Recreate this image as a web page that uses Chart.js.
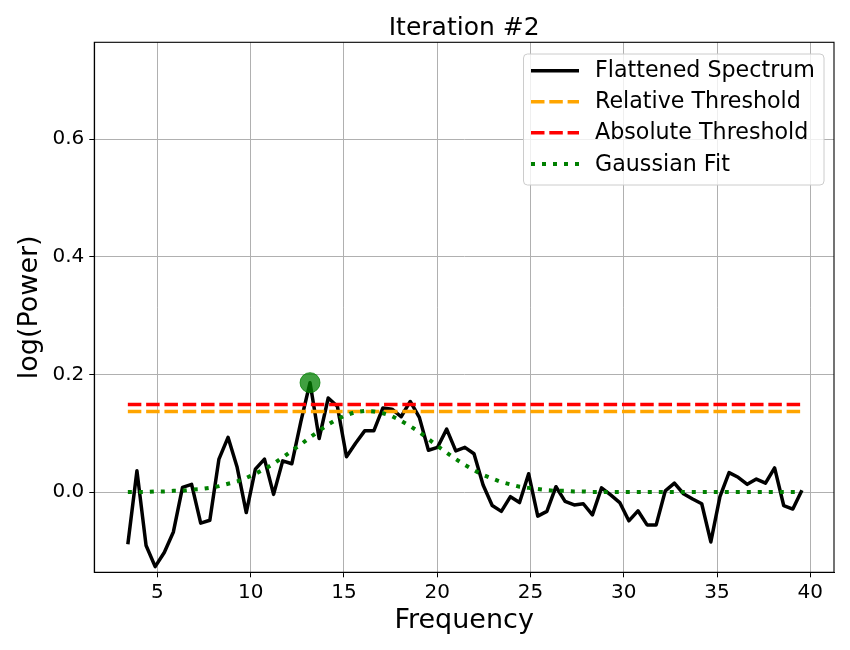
<!DOCTYPE html>
<html>
<head>
<meta charset="utf-8">
<script src="https://cdn.jsdelivr.net/npm/chart.js@4.4.1/dist/chart.umd.min.js"></script>
<style>
  html, body { margin: 0; padding: 0; background: #ffffff; }
  #wrap { width: 850px; height: 650px; }
</style>
</head>
<body>
<div id="wrap"><canvas id="c" width="850" height="650"></canvas></div>
<script>
// ---- Data ----
const freqs = [3.418, 3.906, 4.395, 4.883, 5.371, 5.859, 6.348, 6.836, 7.324, 7.813,
  8.301, 8.789, 9.277, 9.766, 10.254, 10.742, 11.230, 11.719, 12.207, 12.695,
  13.184, 13.672, 14.160, 14.648, 15.137, 15.625, 16.113, 16.602, 17.090, 17.578,
  18.066, 18.555, 19.043, 19.531, 20.020, 20.508, 20.996, 21.484, 21.973, 22.461,
  22.949, 23.438, 23.926, 24.414, 24.902, 25.391, 25.879, 26.367, 26.855, 27.344,
  27.832, 28.320, 28.809, 29.297, 29.785, 30.273, 30.762, 31.250, 31.738, 32.227,
  32.715, 33.203, 33.691, 34.180, 34.668, 35.156, 35.645, 36.133, 36.621, 37.109,
  37.598, 38.086, 38.574, 39.063, 39.551];

const flattenedSpectrum = [-0.089, 0.036, -0.091, -0.127, -0.103, -0.068, 0.008, 0.013, -0.053, -0.048,
  0.056, 0.093, 0.042, -0.035, 0.039, 0.056, -0.004, 0.053, 0.048, 0.120,
  0.186, 0.091, 0.160, 0.146, 0.060, 0.083, 0.104, 0.104, 0.143, 0.141,
  0.128, 0.154, 0.127, 0.071, 0.076, 0.107, 0.070, 0.076, 0.065, 0.012,
  -0.023, -0.033, -0.008, -0.018, 0.031, -0.041, -0.033, 0.009, -0.016, -0.022,
  -0.020, -0.039, 0.007, -0.005, -0.018, -0.049, -0.032, -0.056, -0.056, 0.002,
  0.015, -0.003, -0.012, -0.020, -0.085, -0.008, 0.033, 0.025, 0.013, 0.022,
  0.015, 0.041, -0.023, -0.029, 0.003];

const gaussianFit = [0.000, 0.000, 0.000, 0.001, 0.001, 0.002, 0.002, 0.004, 0.005, 0.007,
  0.010, 0.014, 0.018, 0.024, 0.031, 0.039, 0.048, 0.059, 0.070, 0.081,
  0.093, 0.104, 0.115, 0.124, 0.131, 0.136, 0.138, 0.137, 0.134, 0.129,
  0.121, 0.112, 0.102, 0.090, 0.078, 0.067, 0.056, 0.046, 0.037, 0.029,
  0.023, 0.017, 0.013, 0.009, 0.007, 0.005, 0.003, 0.002, 0.002, 0.001,
  0.001, 0.000, 0.000, 0.000, 0.000, 0.000, 0.000, 0.000, 0.000, 0.000,
  0.000, 0.000, 0.000, 0.000, 0.000, 0.000, 0.000, 0.000, 0.000, 0.000,
  0.000, 0.000, 0.000, 0.000, 0.000];

const relativeThreshold = [0.137, 0.137];
const absoluteThreshold = [0.149, 0.149];
const thresholdFreqs = [3.418, 39.551];

const peakFreqs = [13.184];
const peakPowers = [0.186];

const xTicks = [5, 10, 15, 20, 25, 30, 35, 40];
const yTicks = [0.0, 0.2, 0.4, 0.6];

const seriesLabels = ['Flattened Spectrum', 'Relative Threshold', 'Absolute Threshold', 'Gaussian Fit'];
const titleText = 'Iteration #2';
const xLabel = 'Frequency';
const yLabel = 'log(Power)';

// ---- Build ----
const FONT = "'DejaVu Sans', 'Liberation Sans', sans-serif";
const toPts = (xs, ys) => xs.map((x, i) => ({ x: x, y: ys[i] }));

const dashed = [13.5, 4.8];
const dotted = [4, 7];

const styles = [
  { color: '#000000', dash: [], width: 3.5 },
  { color: '#ffa500', dash: dashed, width: 3.5 },
  { color: '#ff0000', dash: dashed, width: 3.5 },
  { color: '#008000', dash: dotted, width: 4 }
];

const frameAndLegend = {
  id: 'frameAndLegend',
  afterDraw(chart) {
    const ctx = chart.ctx;
    const a = chart.chartArea;
    ctx.save();
    // title centred over the plot area
    ctx.fillStyle = '#000000';
    ctx.font = '25px ' + FONT;
    ctx.textAlign = 'center';
    ctx.textBaseline = 'alphabetic';
    ctx.fillText(titleText, (a.left + a.right) / 2, 34.5);

    // four spines
    ctx.strokeStyle = '#000000';
    ctx.lineWidth = 1.1;
    ctx.strokeRect(a.left, a.top, a.right - a.left, a.bottom - a.top);

    // legend box
    const bx = 523.5, by = 54, bw = 300.5, bh = 131, r = 4;
    ctx.beginPath();
    ctx.moveTo(bx + r, by);
    ctx.lineTo(bx + bw - r, by);
    ctx.quadraticCurveTo(bx + bw, by, bx + bw, by + r);
    ctx.lineTo(bx + bw, by + bh - r);
    ctx.quadraticCurveTo(bx + bw, by + bh, bx + bw - r, by + bh);
    ctx.lineTo(bx + r, by + bh);
    ctx.quadraticCurveTo(bx, by + bh, bx, by + bh - r);
    ctx.lineTo(bx, by + r);
    ctx.quadraticCurveTo(bx, by, bx + r, by);
    ctx.closePath();
    ctx.fillStyle = 'rgba(255,255,255,0.8)';
    ctx.fill();
    ctx.strokeStyle = '#cccccc';
    ctx.lineWidth = 1;
    ctx.stroke();

    const rows = [70.7, 101.7, 132.7, 164];
    ctx.font = '22.2px ' + FONT;
    ctx.textBaseline = 'middle';
    ctx.textAlign = 'left';
    seriesLabels.forEach((lab, i) => {
      const s = styles[i];
      ctx.beginPath();
      ctx.setLineDash(s.dash);
      ctx.lineDashOffset = 0;
      ctx.strokeStyle = s.color;
      ctx.lineWidth = s.width;
      ctx.lineCap = 'butt';
      ctx.moveTo(531, rows[i]);
      ctx.lineTo(579, rows[i]);
      ctx.stroke();
      ctx.setLineDash([]);
      ctx.fillStyle = '#000000';
      ctx.fillText(lab, 595, rows[i] + 1);
    });
    ctx.restore();
  }
};

const datasets = [
  {
    label: seriesLabels[0], data: toPts(freqs, flattenedSpectrum),
    borderColor: styles[0].color, borderWidth: styles[0].width, borderDash: styles[0].dash,
    pointRadius: 0, tension: 0, fill: false, order: 5, borderJoinStyle: 'round'
  },
  {
    label: seriesLabels[1], data: toPts(thresholdFreqs, relativeThreshold),
    borderColor: styles[1].color, borderWidth: styles[1].width, borderDash: styles[1].dash,
    pointRadius: 0, tension: 0, fill: false, order: 4, borderCapStyle: 'butt'
  },
  {
    label: seriesLabels[2], data: toPts(thresholdFreqs, absoluteThreshold),
    borderColor: styles[2].color, borderWidth: styles[2].width, borderDash: styles[2].dash,
    pointRadius: 0, tension: 0, fill: false, order: 3, borderCapStyle: 'butt'
  },
  {
    label: seriesLabels[3], data: toPts(freqs, gaussianFit),
    borderColor: styles[3].color, borderWidth: styles[3].width, borderDash: styles[3].dash,
    pointRadius: 0, tension: 0, fill: false, order: 2, borderCapStyle: 'butt'
  },
  {
    label: 'peak', data: toPts(peakFreqs, peakPowers),
    showLine: false, pointRadius: 10, pointHoverRadius: 10,
    pointBackgroundColor: 'rgba(0,128,0,0.75)', pointBorderColor: 'rgba(0,128,0,0.75)',
    pointBorderWidth: 1, order: 1
  }
];

new Chart(document.getElementById('c'), {
  type: 'line',
  data: { datasets: datasets },
  plugins: [frameAndLegend],
  options: {
    responsive: false,
    animation: false,
    devicePixelRatio: 1,
    layout: { padding: { left: 0, right: 16, top: 42.3, bottom: 0 } },
    plugins: {
      legend: { display: false },
      tooltip: { enabled: false },
      title: { display: false }
    },
    scales: {
      x: {
        type: 'linear', min: 1.62, max: 41.27,
        afterBuildTicks: (s) => { s.ticks = xTicks.map(v => ({ value: v })); },
        afterFit: (s) => { s.height = 77.7; },
        grid: { color: '#b0b0b0', lineWidth: 1, tickColor: '#000000', tickLength: 5, drawTicks: true },
        border: { display: true, color: '#000000', width: 1.1 },
        ticks: {
          color: '#000000', padding: 3, maxRotation: 0, autoSkip: false,
          font: { family: FONT, size: 20 },
          callback: (v) => String(v)
        },
        title: {
          display: true, text: xLabel, color: '#000000',
          font: { family: FONT, size: 27, weight: 'normal', lineHeight: 1.2 },
          padding: { top: 0, bottom: 12.5 }
        }
      },
      y: {
        type: 'linear', min: -0.1366, max: 0.765,
        afterBuildTicks: (s) => { s.ticks = yTicks.map(v => ({ value: v })); },
        afterFit: (s) => { s.width = 94.3; },
        grid: { color: '#b0b0b0', lineWidth: 1, tickColor: '#000000', tickLength: 5, drawTicks: true },
        border: { display: true, color: '#000000', width: 1.1 },
        ticks: {
          color: '#000000', padding: 5, autoSkip: false,
          font: { family: FONT, size: 20 },
          callback: (v) => Number(v).toFixed(1)
        },
        title: {
          display: true, text: yLabel, color: '#000000',
          font: { family: FONT, size: 27, weight: 'normal', lineHeight: 1.2 },
          padding: { top: 14, bottom: 0 }
        }
      }
    }
  }
});
</script>
</body>
</html>
